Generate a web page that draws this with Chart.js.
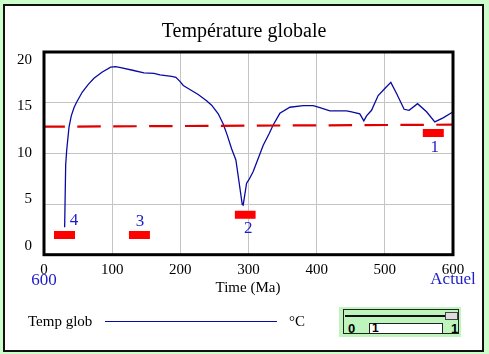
<!doctype html>
<html lang="fr">
<head>
<meta charset="utf-8">
<title>Température globale</title>
<script src="https://cdn.jsdelivr.net/npm/chart.js"></script>
<style>
  body { margin: 0; background: #ccffcc; width: 489px; height: 354px; overflow: hidden; position: relative; font-family: "Liberation Serif", serif; }
  #panel { position: absolute; left: 3px; top: 4px; width: 481px; height: 348px; box-sizing: border-box; border: 2px solid #111; background: #fff; }
  #chart { position: absolute; left: 0; top: 0; }
  #slider { position: absolute; left: 339px; top: 307px; width: 122px; height: 30px; background: #bdf5bd; }
  #slider .frame { position: absolute; left: 4px; top: 2px; width: 116px; height: 25px; box-sizing: border-box; border: 1px solid #222; }
  #slider .track { position: absolute; left: 6px; top: 8px; width: 106px; height: 2px; background: #111; }
  #slider .thumb { position: absolute; left: 106px; top: 5px; width: 13px; height: 8px; background: #ddd; border: 1px solid #444; box-sizing: border-box; }
  #slider .lo, #slider .hi { position: absolute; top: 14px; font: bold 13px "Liberation Sans Narrow", "Liberation Sans", sans-serif; }
  #slider .lo { left: 9px; }
  #slider .hi { left: 112px; }
  #slider .box { position: absolute; left: 30px; top: 16px; width: 70px; height: 9px; border: 1px solid #222; background: #fff; font: bold 12px "Liberation Sans Narrow", sans-serif; line-height: 9px; padding-left: 2px; box-sizing: content-box; }
</style>
</head>
<body>
<div id="panel"></div>
<canvas id="chart" width="489" height="354"></canvas>
<div id="slider">
  <div class="frame"></div>
  <div class="track"></div>
  <div class="thumb"></div>
  <span class="lo">0</span>
  <div class="box">1</div>
  <span class="hi">1</span>
</div>

<script>
  // courbe de température (temps en Ma depuis -600, °C)
  const timeMa = [30.3, 31.8, 33.3, 36.7, 40, 44, 47.4, 56.2, 65, 73.3, 85, 97.8, 105, 112.5, 130, 146.6, 161.3, 170, 187.2, 193.5,
                  199.4, 204.3, 214, 226.2, 238.5, 245.9, 255.6, 262.9, 268.8, 275.2, 281.5, 286.4, 290.8, 292.2, 297.2, 300.6,
                  306.9, 314.2, 321.6, 330.4, 336.2, 346, 360.7, 380.2, 394.9, 404.7, 419.4, 443.8, 451.2, 463.3, 469.2, 473.2,
                  480.5, 490.2, 500, 508.8, 517.2, 528.3, 535.6, 548, 561.2, 573.3, 585.5, 597.8, 600];
  const tempGlob = [2.7, 8.85, 10.3, 12.6, 13.7, 14.5, 15.0, 16.05, 16.8, 17.4, 18.0, 18.5, 18.55, 18.45, 18.2, 17.95, 17.9, 17.75, 17.6, 17.5,
                    17.1, 16.7, 16.3, 15.8, 15.2, 14.75, 13.9, 12.9, 11.8, 10.45, 9.35, 7.05, 4.97, 4.9, 7.05, 7.4,
                    8.2, 9.5, 10.8, 11.95, 12.8, 13.95, 14.55, 14.7, 14.7, 14.5, 14.2, 14.2, 14.1, 13.9, 13.2, 13.7,
                    14.25, 15.7, 16.4, 17.0, 15.9, 14.35, 14.25, 14.9, 14.1, 13.1, 13.5, 14.0, 14.1];

  // ligne de référence en tirets
  const refTime = [0, 600];
  const refTemp = [12.63, 12.83];

  // repères rouges numérotés
  const markerFrom = [555.7, 280, 124.6, 14.7];
  const markerTo = [586.5, 310.4, 155.4, 45.5];
  const markerTemp = [12.0, 3.95, 1.95, 1.95];
  const markerLabels = ['1', '2', '3', '4'];

  const xTicks = [0, 100, 200, 300, 400, 500, 600];
  const yTicks = [0, 5, 10, 15, 20];

  const chartTitle = 'Température globale';
  const xTitle = 'Time (Ma)';
  const startLabel = '600';
  const endLabel = 'Actuel';
  const seriesName = 'Temp glob';
  const seriesUnit = '°C';

  const SERIF = '"Liberation Serif", "Times New Roman", serif';
  const NAVY = '#0a0aa0';
  const BLUE = '#1c1cc8';

  const curve = timeMa.map((t, i) => ({ x: t, y: tempGlob[i] }));
  const ref = refTime.map((t, i) => ({ x: t, y: refTemp[i] }));
  const markers = [];
  markerTemp.forEach((v, i) => {
    markers.push({ x: markerFrom[i], y: v }, { x: markerTo[i], y: v }, { x: markerTo[i], y: null });
  });

  // décalage des numéros par rapport au centre du repère
  const labelOffset = [[1.5, 14.7], [3, 13.6], [0.5, -13], [9.5, -14]];

  const annot = {
    id: 'annot',
    afterDraw(chart) {
      const { ctx, chartArea: a, scales: { x, y } } = chart;
      ctx.save();
      ctx.lineWidth = 3;
      ctx.strokeStyle = '#000';
      ctx.strokeRect(a.left, a.top, a.right - a.left, a.bottom - a.top);

      ctx.fillStyle = '#000';
      ctx.textAlign = 'center';
      ctx.textBaseline = 'alphabetic';
      ctx.font = '20px ' + SERIF;
      ctx.fillText(chartTitle, 244, 37);

      ctx.textBaseline = 'middle';
      ctx.font = '15px ' + SERIF;
      ctx.fillText(xTitle, 248, 288);

      ctx.fillStyle = BLUE;
      ctx.font = '17px ' + SERIF;
      ctx.fillText(startLabel, x.getPixelForValue(0), 281);
      ctx.fillText(endLabel, x.getPixelForValue(600), 280);

      markerLabels.forEach((lab, i) => {
        const cx = x.getPixelForValue((markerFrom[i] + markerTo[i]) / 2);
        const cy = y.getPixelForValue(markerTemp[i]);
        ctx.fillText(lab, cx + labelOffset[i][0], cy + labelOffset[i][1]);
      });

      // légende du bas
      ctx.fillStyle = '#000';
      ctx.textAlign = 'left';
      ctx.font = '15px ' + SERIF;
      ctx.fillText(seriesName, 28, 322);
      ctx.fillText(seriesUnit, 289, 322);
      ctx.strokeStyle = NAVY;
      ctx.lineWidth = 1.2;
      ctx.beginPath();
      ctx.moveTo(105, 321.5);
      ctx.lineTo(277, 321.5);
      ctx.stroke();
      ctx.restore();
    }
  };

  new Chart(document.getElementById('chart'), {
    type: 'line',
    data: {
      datasets: [
        { data: ref, borderColor: '#e00000', borderWidth: 2.2, borderDash: [23.5, 12.4], borderDashOffset: 2.6, pointRadius: 0 },
        { data: markers, borderColor: '#ff0000', borderWidth: 8, borderCapStyle: 'butt', pointRadius: 0, spanGaps: false },
        { data: curve, borderColor: NAVY, borderWidth: 1.3, pointRadius: 0, tension: 0 }
      ]
    },
    options: {
      responsive: false,
      animation: false,
      devicePixelRatio: 1,
      layout: { padding: { left: 0, top: 52, right: 36, bottom: 0 } },
      plugins: { legend: { display: false }, tooltip: { enabled: false } },
      scales: {
        x: {
          type: 'linear', min: 0, max: 600,
          afterFit: s => { s.height = 99.3; },
          afterBuildTicks: s => { s.ticks = xTicks.map(v => ({ value: v })); },
          grid: { color: '#c4c4c4', drawTicks: false },
          border: { display: false },
          ticks: { color: '#000', padding: 6, maxRotation: 0, autoSkip: false, font: { family: SERIF, size: 15 } }
        },
        y: {
          min: 0, max: 20,
          afterFit: s => { s.width = 0; },
          afterBuildTicks: s => { s.ticks = yTicks.map(v => ({ value: v })); },
          grid: { color: '#c4c4c4', drawTicks: false },
          border: { display: false },
          ticks: { display: false }
        },
        yl: {
          position: 'left',
          min: -0.935, max: 20.86,
          afterFit: s => { s.width = 44; },
          afterBuildTicks: s => { s.ticks = yTicks.map(v => ({ value: v })); },
          grid: { display: false, drawTicks: false },
          border: { display: false },
          ticks: { color: '#000', padding: 12, font: { family: SERIF, size: 15 } }
        }
      }
    },
    plugins: [annot]
  });
</script>
</body>
</html>
